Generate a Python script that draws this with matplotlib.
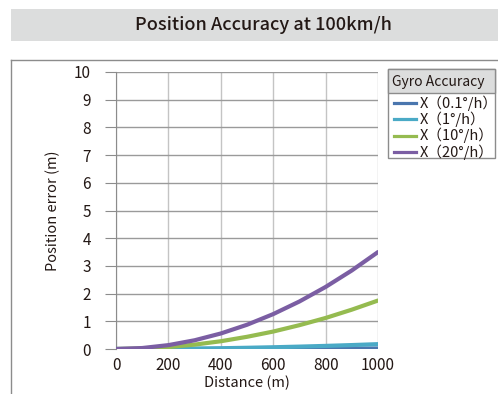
import matplotlib
matplotlib.use("Agg")
import matplotlib.pyplot as plt
from matplotlib.patches import Rectangle
from matplotlib.lines import Line2D

plt.rcParams['font.family'] = ['Noto Sans CJK JP', 'DejaVu Sans']

# data
distance = [0, 100, 200, 300, 400, 500, 600, 700, 800, 900, 1000]
err_01 = [0, 0, 0.001, 0.002, 0.003, 0.004, 0.006, 0.009, 0.011, 0.014, 0.018]
err_1 = [0, 0.002, 0.007, 0.016, 0.028, 0.044, 0.063, 0.086, 0.112, 0.142, 0.175]
err_10 = [0, 0.018, 0.07, 0.158, 0.28, 0.44, 0.63, 0.86, 1.12, 1.42, 1.75]
err_20 = [0, 0.035, 0.14, 0.315, 0.56, 0.875, 1.26, 1.715, 2.24, 2.835, 3.5]

labels = ["X\uff080.1°/h\uff09", "X\uff081°/h\uff09", "X\uff0810°/h\uff09", "X\uff0820°/h\uff09"]
colors = ["#4a76ae", "#4aaac6", "#95bb50", "#7b5ea3"]
series = [err_01, err_1, err_10, err_20]

W, H = 498, 394
fig = plt.figure(figsize=(W / 100, H / 100), dpi=100)

def fx(px):
    return px / W

def fy(py):
    return 1 - py / H

# title band
fig.patches.append(Rectangle((fx(11), fy(41)), fx(498) - fx(11), fy(9) - fy(41),
                             transform=fig.transFigure, facecolor="#dcdddd",
                             edgecolor="none", zorder=0))
fig.text(fx(263), fy(25), "Position Accuracy at 100km/h", ha="center", va="center",
         fontsize=13, fontweight="medium", color="#231815")

# outer frame
fig.add_artist(Line2D([fx(11), fx(11)], [fy(394), fy(60)], transform=fig.transFigure,
                      color="#8c8c8c", lw=1))
fig.add_artist(Line2D([fx(11), fx(498)], [fy(60), fy(60)], transform=fig.transFigure,
                      color="#8c8c8c", lw=1))

ax = fig.add_axes([fx(116), fy(349), fx(378) - fx(116), fy(72) - fy(349)])
for s, c, lab in zip(series, colors, labels):
    ax.plot(distance, s, color=c, lw=3, solid_capstyle="round", label=lab, zorder=3)

ax.set_xlim(0, 1000)
ax.set_ylim(0, 10)
ax.set_xticks(range(0, 1001, 200))
ax.set_yticks(range(0, 11))
ax.grid(True, axis="x", color="#c4c4c4", lw=1)
ax.grid(True, axis="y", color="#9a9a9a", lw=1)
for sp in ["top", "right", "bottom"]:
    ax.spines[sp].set_visible(False)
ax.spines["left"].set_color("#8c8c8c")
ax.tick_params(axis="y", length=8, color="#8c8c8c", labelsize=11, labelcolor="#231815", pad=10)
ax.tick_params(axis="x", length=0, labelsize=11, labelcolor="#231815", pad=6)
ax.set_xlabel("Distance (m)", fontsize=10.5, color="#231815", labelpad=1)
ax.set_ylabel("Position error (m)", fontsize=10.5, color="#231815", labelpad=10)

# legend box with gray title
fig.patches.append(Rectangle((fx(388), fy(158)), fx(495) - fx(388), fy(69) - fy(158),
                             transform=fig.transFigure, facecolor="white",
                             edgecolor="#8c8c8c", lw=1, zorder=1))
fig.patches.append(Rectangle((fx(388), fy(93)), fx(495) - fx(388), fy(69) - fy(93),
                             transform=fig.transFigure, facecolor="#dcdddd",
                             edgecolor="#8c8c8c", lw=1, zorder=1))
fig.text(fx(392), fy(82), "Gyro Accuracy", ha="left", va="center", fontsize=10,
         color="#231815", zorder=2)
for i, (c, lab) in enumerate(zip(colors, labels)):
    yy = fy(103 + i * 16.3)
    fig.add_artist(Line2D([fx(394), fx(416)], [yy, yy], transform=fig.transFigure,
                          color=c, lw=2.3, zorder=2))
    fig.text(fx(420), yy, lab, ha="left", va="center", fontsize=10.5,
             color="#231815", zorder=2)

fig.savefig("out.png", dpi=100)
